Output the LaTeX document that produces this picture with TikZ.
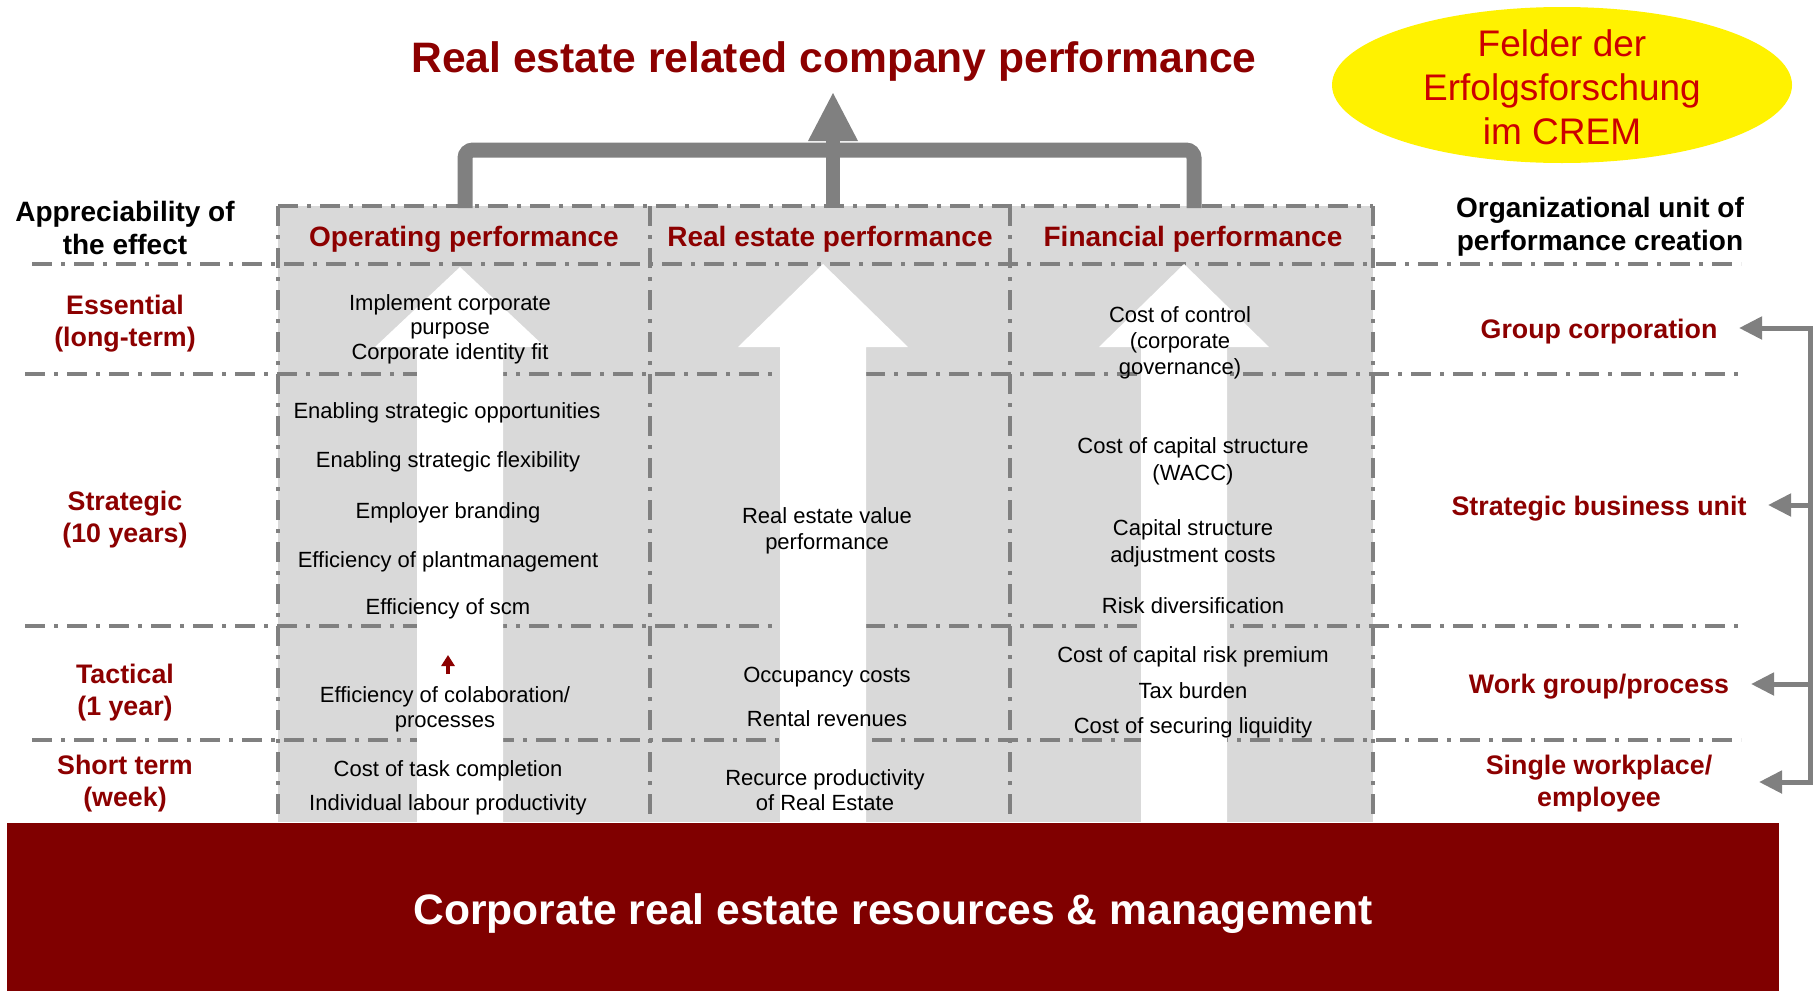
\documentclass[tikz,border=0pt]{standalone}
\usepackage{fontspec}
\setmainfont{Liberation Sans}
\usetikzlibrary{arrows.meta,shapes.geometric}
\definecolor{dred}{RGB}{140,0,0}
\definecolor{bandred}{RGB}{128,0,0}
\definecolor{lgrey}{RGB}{217,217,217}
\definecolor{mgrey}{RGB}{128,128,128}
\definecolor{ellred}{RGB}{204,0,0}
\begin{document}
\begin{tikzpicture}[x=1pt,y=-1pt,
  gridline/.style={draw=mgrey,line width=4pt,dash pattern=on 20pt off 9pt on 4pt off 9pt},
  body/.style={font=\fontsize{22}{26}\selectfont,align=center,inner sep=0pt,yshift=-3pt},
  hdr/.style={font=\bfseries\fontsize{28}{33}\selectfont,text=dred,inner sep=0pt,yshift=-3pt},
  side/.style={font=\bfseries\fontsize{26.8}{32}\selectfont,align=center,inner sep=0pt,text=dred,yshift=-3pt},
  sidehead/.style={font=\bfseries\fontsize{28}{33}\selectfont,align=center,inner sep=0pt,yshift=-3pt},
  big/.style={font=\bfseries\fontsize{42.6}{50}\selectfont,inner sep=0pt,yshift=-3pt},
  conn/.style={draw=mgrey,line width=5pt},
  tipg/.style={-{Triangle[length=23pt,width=22pt]}}]
\useasboundingbox (0,0) rectangle (1814,991);

% grey field
\fill[lgrey] (278,206) rectangle (1373,822);

% grid lines
\draw[gridline] (278,206) -- (1373,206);
\draw[gridline] (32,264) -- (1741,264);
\draw[gridline] (25,374) -- (1739,374);
\draw[gridline] (25,626) -- (1739,626);
\draw[gridline] (32,740) -- (1741,740);
\foreach \xx in {278,650,1010,1373} {
  \draw[gridline] (\xx,206) -- (\xx,822);
}

% white arrows
\foreach \c/\t in {460/267,823/264,1184/264} {
  \fill[white] (\c-43,822) -- (\c-43,347) -- (\c-85,347) -- (\c,\t) -- (\c+85,347) -- (\c+43,347) -- (\c+43,822) -- cycle;
}

% title
\node[big,text=dred] (title) at (834,58) {Real estate related company performance};

% ellipse
\node[ellipse,fill=yellow,draw=none,minimum width=460pt,minimum height=156pt,inner sep=0pt] (ell) at (1562,85) {};
\node[font=\fontsize{37}{44}\selectfont,text=ellred,align=center,inner sep=0pt] (felder) at (1562,87) {Felder der\\Erfolgsforschung\\im CREM};

% column headers
\node[hdr] (ophdr) at (464,236) {Operating performance};
\node[hdr] (rehdr) at (830,236) {Real estate performance};
\node[hdr] (finhdr) at (1193,236) {Financial performance};

% side headers
\node[sidehead] (apprec) at (125,225) {Appreciability of\\the effect};
\node[sidehead] (orgunit) at (1600,224) {Organizational unit of\\performance creation};

% row labels
\node[side] (essential) at (125,321) {Essential\\(long-term)};
\node[side] (strategic) at (125,517) {Strategic\\(10 years)};
\node[side] (tactical) at (125,690) {Tactical\\(1 year)};
\node[side] (short) at (125,781) {Short term\\(week)};

% right labels
\node[side] (group) at (1599,329) {Group corporation};
\node[side] (sbu) at (1599,506) {Strategic business unit};
\node[side] (work) at (1599,684) {Work group/process};
\node[side] (single) at (1599,781) {Single workplace/\\employee};

% operating column
\node[body,font=\fontsize{22}{24.5}\selectfont] (op1) at (450,326) {Implement corporate\\purpose\\Corporate identity fit};
\node[body] (op2) at (447,410) {Enabling strategic opportunities};
\node[body] (op3) at (448,459) {Enabling strategic flexibility};
\node[body] (op4) at (448,510) {Employer branding};
\node[body] (op5) at (448,559) {Efficiency of plantmanagement};
\node[body] (op6) at (448,606) {Efficiency of scm};
\node[body,font=\fontsize{22}{25}\selectfont] (op7) at (445,706) {Efficiency of colaboration/\\processes};
\node[body] (op8) at (448,768) {Cost of task completion};
\node[body] (op9) at (448,802) {Individual labour productivity};
\coordinate (ra1) at (448,674);
\coordinate (ra2) at (448,655);
\draw[dred,line width=4pt,-{Triangle[length=11pt,width=13pt]}] (ra1) -- (ra2);

% real estate column
\node[body] (re1) at (827,528) {Real estate value\\performance};
\node[body] (re2) at (827,674) {Occupancy costs};
\node[body] (re3) at (827,716) {Rental revenues};
\node[body,font=\fontsize{22}{25}\selectfont] (re4) at (825,787) {Recurce productivity\\of Real Estate};

% financial column
\node[body] (fi1) at (1180,340) {Cost of control\\(corporate\\governance)};
\node[body,font=\fontsize{22}{27}\selectfont] (fi2) at (1193,458) {Cost of capital structure\\(WACC)};
\node[body,font=\fontsize{22}{27}\selectfont] (fi3) at (1193,540) {Capital structure\\adjustment costs};
\node[body] (fi4) at (1193,603) {Risk diversification};
\node[body] (fi5) at (1193,654) {Cost of capital risk premium};
\node[body] (fi6) at (1193,688) {Tax burden};
\node[body] (fi7) at (1193,725) {Cost of securing liquidity};

% bottom band
\fill[bandred] (7,823) rectangle (1779,991);
\node[big,text=white] (band) at (893,911) {Corporate real estate resources \& management};

% top bracket
\coordinate (sl) at (465,208);
\coordinate (sr) at (1194,208);
\coordinate (sm) at (833,208);
\draw[mgrey,line width=15pt,rounded corners=8pt] (sl) -- (465,150) -- (1194,150) -- (sr);
\draw[mgrey,line width=14pt] (sm) -- (833,138);
\fill[mgrey] (808,141) -- (833,93) -- (858,141) -- cycle;

% right bracket
\coordinate (tg) at (1739,328);
\coordinate (ts) at (1768,505);
\coordinate (tw) at (1751,684);
\coordinate (te) at (1759,782);
\draw[conn,{Triangle[length=23pt,width=22pt]}-{Triangle[length=23pt,width=22pt]}] (tg) -- (1810,328) -- (1810,782) -- (te);
\draw[conn,tipg] (1810,505) -- (ts);
\draw[conn,tipg] (1810,684) -- (tw);
\end{tikzpicture}
\end{document}
